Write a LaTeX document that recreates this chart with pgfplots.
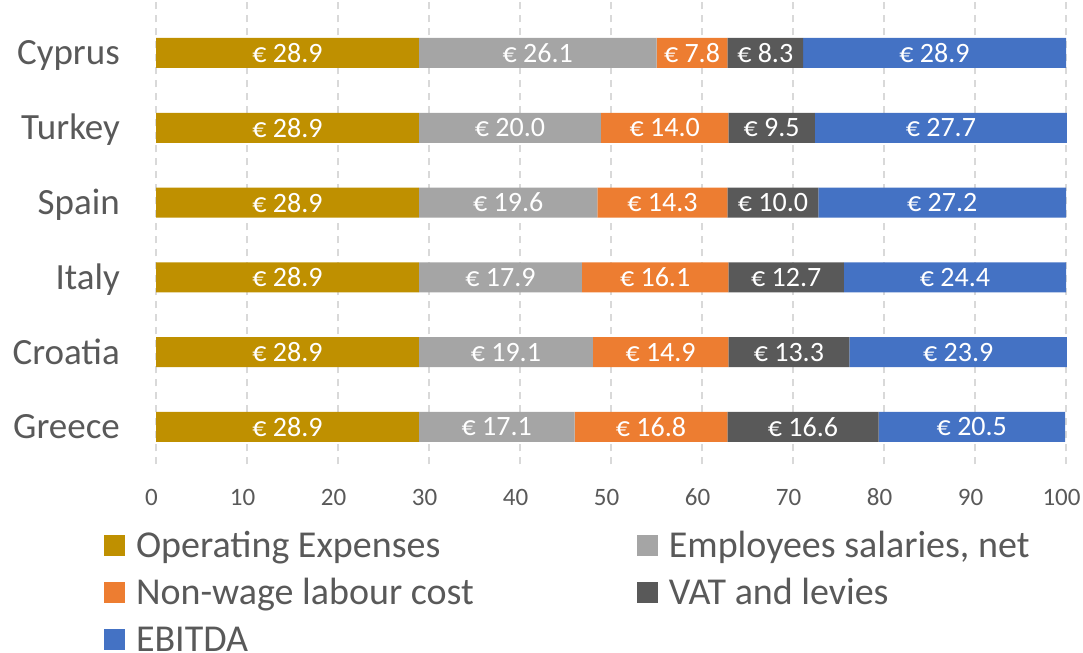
\documentclass[border=0pt]{standalone}
\usepackage{pgfplots}
\pgfplotsset{compat=1.18}
\usepackage{pgfplotstable}
\usepackage{fontspec}
\setmainfont{Carlito}
\definecolor{cOpex}{HTML}{BF9000}
\definecolor{cSal}{HTML}{A5A5A5}
\definecolor{cNon}{HTML}{ED7D31}
\definecolor{cVat}{HTML}{595959}
\definecolor{cEb}{HTML}{4472C4}
\definecolor{cTxt}{HTML}{595959}
\definecolor{cGrid}{HTML}{D9D9D9}

\pgfplotstableread{
y opex sal non vat eb
0 28.9 17.1 16.8 16.6 20.5
1 28.9 19.1 14.9 13.3 23.9
2 28.9 17.9 16.1 12.7 24.4
3 28.9 19.6 14.3 10.0 27.2
4 28.9 20.0 14.0 9.5 27.7
5 28.9 26.1 7.8 8.3 28.9
}\data

\pgfplotsset{sqlegend/.style={legend image code/.code={\fill[##1] (0bp,-7.5bp) rectangle (21bp,13.5bp);}}}

\begin{document}
\begin{tikzpicture}
\useasboundingbox (0,0) rectangle (1083bp,653bp);
\begin{axis}[
  at={(156bp,188.6bp)}, anchor=south west,
  scale only axis, width=911.82bp, height=463.8bp,
  xbar stacked, bar width=30bp,
  xmin=0, xmax=100.2, ymin=-0.5, ymax=5.7,
  xtick={0,10,...,100},
  ytick={0,...,5},
  yticklabels={Greece,Croatia,Italy,Spain,Turkey,Cyprus},
  axis line style={draw=none},
  major tick length=0pt,
  xmajorgrids,
  grid style={cGrid, line width=1.5bp, dash pattern=on 7bp off 6bp},
  /pgf/number format/assume math mode=true,
  xticklabel style={font=\fontsize{25bp}{30bp}\selectfont, text=cTxt, anchor=center, yshift=-32.6bp, xshift=-4.5bp, inner sep=0pt},
  yticklabel style={font=\fontsize{37bp}{44bp}\selectfont, text=cTxt, anchor=base east, xshift=-36bp, yshift=-11.9bp, inner sep=0pt},
  legend columns=2,
  legend style={at={(-0.0570,-0.1434)}, anchor=north west, draw=none, fill=none, inner sep=0pt, outer sep=0pt,
     font=\fontsize{38bp}{44bp}\selectfont, text=cTxt,
     nodes={inner sep=0pt, text height=27bp, text depth=8bp},
     row sep=12bp,
     /tikz/every odd column/.append style={column sep=11bp},
     /tikz/every even column/.append style={column sep=163bp},
     cells={anchor=west}},
  nodes near coords={€~\pgfmathprintnumber[fixed,fixed zerofill,precision=1]{\pgfplotspointmeta}},
  point meta=explicit,
  every axis plot post/.append style={
     draw=none, sqlegend,
     every node near coord/.style={anchor=center, text=white, font=\fontsize{28bp}{30bp}\selectfont, inner sep=0pt}},
]
\addplot[fill=cOpex] table[x=opex, y=y, meta=opex] {\data};
\addplot[fill=cSal] table[x=sal, y=y, meta=sal] {\data};
\addplot[fill=cNon] table[x=non, y=y, meta=non] {\data};
\addplot[fill=cVat] table[x=vat, y=y, meta=vat] {\data};
\addplot[fill=cEb] table[x=eb, y=y, meta=eb] {\data};
\legend{Operating Expenses, {Employees salaries, net}, Non-wage labour cost, VAT and levies, EBITDA}
\end{axis}
\end{tikzpicture}
\end{document}
